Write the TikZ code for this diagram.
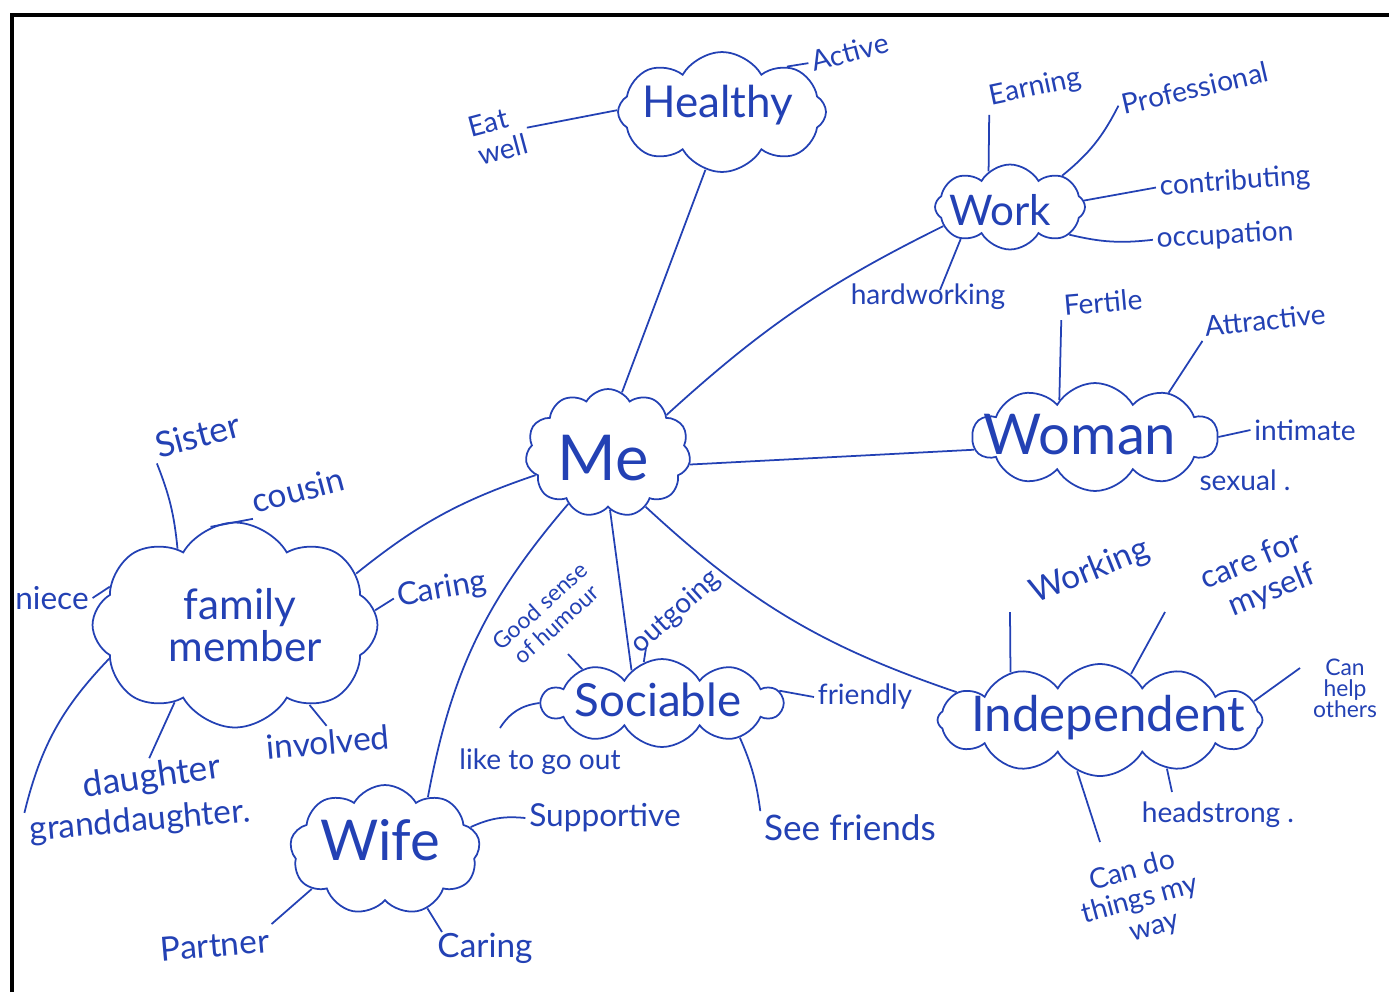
\documentclass[tikz,border=0pt]{standalone}
\usepackage{fontspec}
\setmainfont{Lato}
\usetikzlibrary{shapes.symbols}
\definecolor{pen}{RGB}{35,65,180}
\begin{document}
\begin{tikzpicture}[x=0.02cm,y=-0.02cm,
  cloudy/.style={draw=pen, line width=1pt, shape=cloud, cloud ignores aspect, inner sep=0pt, cloud puff arc=120},
  word/.style={text=pen, inner sep=2pt, align=center, font=\fontsize{16}{17}\selectfont},
  bigword/.style={text=pen, inner sep=0pt, font=\fontsize{#1}{#1}\selectfont},
  link/.style={draw=pen, line width=1pt}]
\useasboundingbox (0,0) rectangle (1389,992);
\draw[line width=0.08cm] (12,992) -- (12,15) -- (1389,15);

% clouds
\node[cloudy, cloud puffs=8, minimum width=4.16cm, minimum height=2.4cm] (healthy) at (722,112) {};
\node[cloudy, cloud puffs=8, minimum width=3.0cm, minimum height=1.7cm] (work) at (1010,207) {};
\node[cloudy, cloud puffs=10, minimum width=4.9cm, minimum height=2.16cm] (woman) at (1095,437) {};
\node[cloudy, cloud puffs=11, minimum width=3.3cm, minimum height=2.56cm] (me) at (608,453) {};
\node[cloudy, cloud puffs=8, minimum width=5.7cm, minimum height=4.1cm] (family) at (235,625) {};
\node[cloudy, cloud puffs=10, minimum width=4.8cm, minimum height=1.76cm] (sociable) at (662,703) {};
\node[cloudy, cloud puffs=12, minimum width=6.5cm, minimum height=2.24cm] (independent) at (1100,720) {};
\node[cloudy, cloud puffs=9, minimum width=3.8cm, minimum height=2.6cm] (wife) at (385,850) {};

% cloud titles
\node[bigword=25] (healthyt) at (718,105) {Healthy};
\node[bigword=24] (workt) at (1000,210) {Work};
\node[bigword=32] (womant) at (1080,435) {Woman};
\node[bigword=36] (met) at (603,458) {Me};
\node[bigword=24, align=center] (familyt) at (240,625) {family\\ \ member};
\node[bigword=26] (sociablet) at (658,700) {Sociable};
\node[bigword=28] (independentt) at (1108,718) {Independent};
\node[bigword=32] (wifet) at (380,840) {Wife};

% leaf words
\node[word, rotate=15] (active) at (850,52) {Active};
\node[word, rotate=15] (eat) at (492,137) {Eat\\ \ \ well};
\node[word, rotate=12] (earning) at (1035,88) {Earning};
\node[word, rotate=13] (professional) at (1195,88) {Professional};
\node[word, rotate=4] (contributing) at (1235,182) {contributing};
\node[word, rotate=3] (occupation) at (1225,236) {occupation};
\node[word] (hardworking) at (928,297) {hardworking};
\node[word, rotate=5] (fertile) at (1103,302) {Fertile};
\node[word, rotate=6] (attractive) at (1265,320) {Attractive};
\node[word] (intimate) at (1305,430) {intimate};
\node[word] (sexual) at (1245,480) {sexual .};
\node[word, rotate=15, font=\fontsize{20}{22}\selectfont] (sister) at (198,435) {Sister};
\node[word, rotate=15, font=\fontsize{19}{21}\selectfont] (cousin) at (298,490) {cousin};
\node[word, font=\fontsize{18}{20}\selectfont] (niece) at (52,598) {niece};
\node[word, rotate=10, font=\fontsize{18}{20}\selectfont] (caringf) at (442,590) {Caring};
\node[word, rotate=5, font=\fontsize{19}{21}\selectfont] (involved) at (328,742) {involved};
\node[word, rotate=8, font=\fontsize{20}{22}\selectfont] (daughter) at (152,778) {daughter};
\node[word, rotate=5, font=\fontsize{19}{21}\selectfont] (granddaughter) at (140,822) {granddaughter.};
\node[word, rotate=42, font=\fontsize{13}{14}\selectfont] (humour) at (548,615) {Good sense\\of humour};
\node[word, rotate=42] (outgoing) at (676,612) {outgoing};
\node[word] (friendly) at (865,697) {friendly};
\node[word] (likeout) at (540,762) {like to go out};
\node[word, font=\fontsize{20}{22}\selectfont] (seefriends) at (850,828) {See friends};
\node[word, font=\fontsize{18}{20}\selectfont] (supportive) at (605,818) {Supportive};
\node[word, rotate=5, font=\fontsize{19}{21}\selectfont] (partner) at (215,945) {Partner};
\node[word, font=\fontsize{19}{21}\selectfont] (caringw) at (485,948) {Caring};
\node[word, rotate=22, font=\fontsize{19}{21}\selectfont] (working) at (1090,572) {Working};
\node[word, rotate=22, font=\fontsize{18}{20}\selectfont] (careself) at (1258,578) {care for\\ \ \ myself};
\node[word, font=\fontsize{13}{12}\selectfont] (canhelp) at (1345,688) {Can\\help\\others};
\node[word] (headstrong) at (1218,815) {headstrong .};
\node[word, rotate=15] (cando) at (1140,900) {Can do\\things my\\ \ \ way};

% free ends of short strokes
\coordinate (workingend) at (1010,612);
\coordinate (careselfend) at (1165,612);
\coordinate (canhelpend) at (1300,668);
\coordinate (headstrongend) at (1172,792);
\coordinate (candoend) at (1100,842);
\coordinate (likeoutend) at (500,728);
\coordinate (humourend) at (568,654);
\coordinate (outgoingend) at (646,648);
\coordinate (caringwend) at (442,932);
\coordinate (hardworkingend) at (940,290);

% main branches
\draw[link] (me.77) -- (healthy.-106);
\draw[link] (me.33) to[bend left=8] (work.196);
\draw[link] (me.-8) -- (woman.186);
\draw[link] (me.197) to[bend right=10] (family.23);
\draw[link] (me.232) to[bend right=15] (wife.51);
\draw[link] (me.-88) -- (sociable.133);
\draw[link] (me.-55) to[bend right=12] (independent.169);

% leaves
\draw[link] (healthy.179) -- (eat.east);
\draw[link] (healthy.35) -- (active.west);
\draw[link] (work.121) -- (earning.south west);
\draw[link] (work.31) to[bend right=12] (professional.west);
\draw[link] (work.5) -- (contributing.west);
\draw[link] (work.-25) to[bend right=10] (occupation.west);
\draw[link] (work.213) -- (hardworkingend);
\draw[link] (woman.134) -- (fertile.south west);
\draw[link] (woman.31) -- (attractive.south west);
\draw[link] (woman.0) -- (intimate.west);
\draw[link] (family.127) to[bend right=8] (sister.south west);
\draw[link] (family.104) -- (cousin.south west);
\draw[link] (family.163) -- (niece.east);
\draw[link] (family.6) -- (caringf.west);
\draw[link] (family.-47) -- (involved.north);
\draw[link] (family.232) -- (daughter.north);
\draw[link] (family.195) to[bend right=15] (granddaughter.north west);
\draw[link] (sociable.157) -- (humourend);
\draw[link] (sociable.114) -- (outgoingend);
\draw[link] (sociable.6) -- (friendly.west);
\draw[link] (sociable.180) to[bend right=25] (likeoutend);
\draw[link] (sociable.-24) to[bend left=8] (seefriends.north west);
\draw[link] (wife.15) to[bend left=15] (supportive.west);
\draw[link] (wife.208) -- (partner.north east);
\draw[link] (wife.-54) -- (caringwend);
\draw[link] (independent.152) -- (workingend);
\draw[link] (independent.56) -- (careselfend);
\draw[link] (independent.7) -- (canhelpend);
\draw[link] (independent.-36) -- (headstrongend);
\draw[link] (independent.-114) -- (candoend);
\end{tikzpicture}
\end{document}
